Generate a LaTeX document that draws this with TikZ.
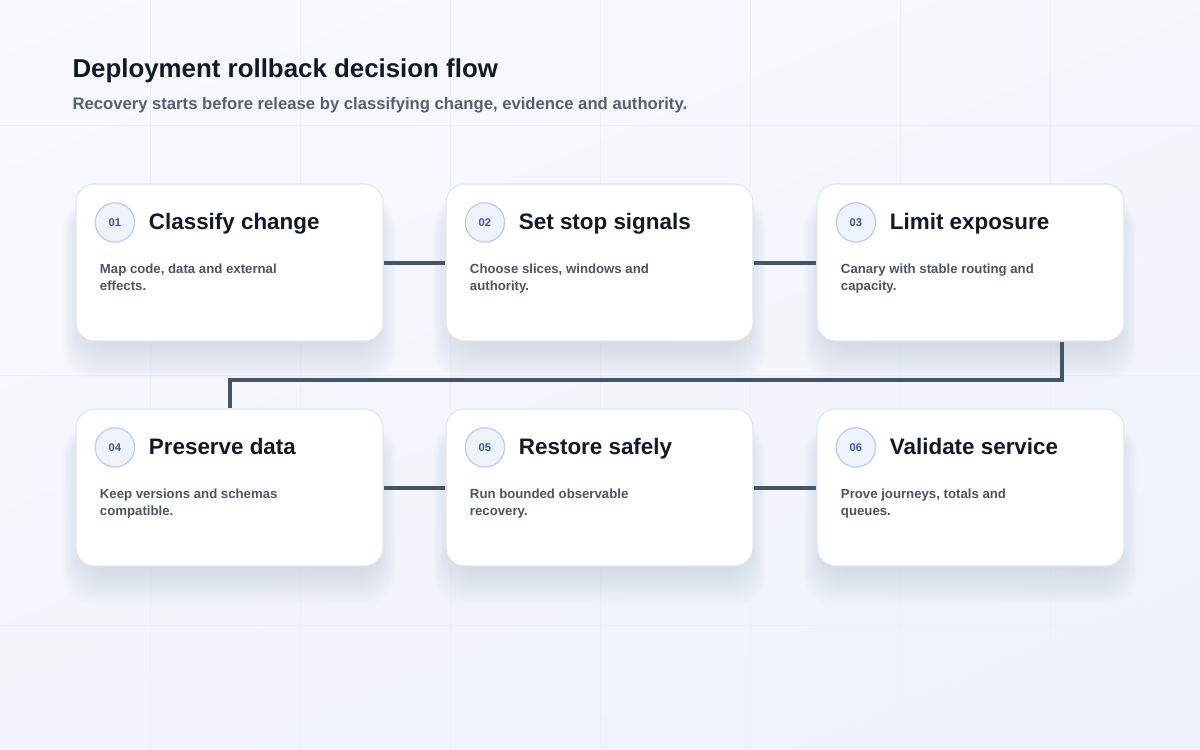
\documentclass[tikz,border=0pt]{standalone}
\usepackage{fontspec}
\setmainfont{Liberation Sans}
\usetikzlibrary{shadings}

\definecolor{inkdark}{HTML}{111827}
\definecolor{inkgray}{HTML}{4B5563}
\definecolor{subgray}{HTML}{556074}
\definecolor{wirecol}{HTML}{465468}
\definecolor{numblue}{HTML}{3457A6}
\definecolor{numfill}{HTML}{EEF3FD}
\definecolor{numline}{HTML}{BCCDEB}
\definecolor{cardline}{HTML}{E1E6EE}
\definecolor{bgtop}{HTML}{F8FAFC}
\definecolor{bgbot}{HTML}{EDF2FB}
\definecolor{gridcol}{HTML}{EDF1F7}
\definecolor{shadecol}{HTML}{7A88A8}

\tikzset{every picture/.style={line width=0.75pt}}
\tikzset{
  card/.style={draw=cardline, line width=0.8pt, fill=white, rounded corners=14pt,
    minimum width=230.25pt, minimum height=117.75pt, inner sep=0pt},
  cardshade/.style={fill=shadecol, fill opacity=0.02, rounded corners=22pt},
  numdot/.style={circle, draw=numline, fill=numfill, line width=0.9pt, minimum size=29.5pt, inner sep=0pt,
    text=numblue, font=\bfseries\fontsize{8.4}{9}\selectfont},
  cardtitle/.style={anchor=base west, inner sep=0pt, text=inkdark, font=\bfseries\fontsize{16.8}{19}\selectfont},
  carddesc/.style={anchor=north west, inner sep=0pt, text=inkgray, align=left,
    font=\bfseries\fontsize{9.9}{12.8}\selectfont},
  wire/.style={draw=wirecol, line width=3pt}
}

\begin{document}
\begin{tikzpicture}[x=0.75pt,y=0.75pt,yscale=-1,xscale=1]
    \useasboundingbox (0,0) rectangle (1200,750);
    \shade[upper left=bgtop, upper right=bgtop!60!bgbot, lower left=bgtop!40!bgbot, lower right=bgbot] (0,0) rectangle (1200,750);
    \foreach \gx in {150,300,...,1050} \draw[gridcol, line width=0.6pt] (\gx,0) -- (\gx,750);
    \foreach \gy in {125,375,625} \draw[gridcol, line width=0.6pt] (0,\gy) -- (1200,\gy);

    \node[anchor=base west, inner sep=0pt, text=inkdark, font=\bfseries\fontsize{19.4}{23}\selectfont] (title) at (72,77) {Deployment rollback decision flow};
    \node[anchor=base west, inner sep=0pt, text=subgray, font=\bfseries\fontsize{12.5}{14}\selectfont] (subtitle) at (72,109) {Recovery starts before release by classifying change, evidence and authority.};

    % soft shadows under the cards
    \foreach \cx/\cy in {229.5/262.5,599.5/262.5,970.5/262.5,229.5/487.5,599.5/487.5,970.5/487.5}
      \foreach \k in {1,...,12}
        \fill[cardshade] ({\cx-168+1.8*\k},{\cy-64+0.6*\k}) rectangle ({\cx+168-1.8*\k},{\cy+120-3.2*\k});

    % cards
    \foreach \id/\cx/\cy/\num/\head/\desc in {
        c1/229.5/262.5/01/Classify change/{Map code, data and external\\effects.},
        c2/599.5/262.5/02/Set stop signals/{Choose slices, windows and\\authority.},
        c3/970.5/262.5/03/Limit exposure/{Canary with stable routing and\\capacity.},
        c4/229.5/487.5/04/Preserve data/{Keep versions and schemas\\compatible.},
        c5/599.5/487.5/05/Restore safely/{Run bounded observable\\recovery.},
        c6/970.5/487.5/06/Validate service/{Prove journeys, totals and\\queues.}} {
      \node[card] (\id) at (\cx,\cy) {};
      \node[numdot] (\id n) at ([xshift=29.6pt,yshift=29.25pt]\id.north west) {\num};
      \node[cardtitle] (\id t) at ([xshift=54.75pt,yshift=34.5pt]\id.north west) {\head};
      \node[carddesc] (\id d) at ([xshift=18pt,yshift=59.6pt]\id.north west) {\desc};
    }

    % connectors
    \draw[wire] (c1.east) -- (c2.west);
    \draw[wire] (c2.east) -- (c3.west);
    \coordinate (drop) at (1062,0);
    \coordinate (bend) at (0,380);
    \draw[wire] (c3.south -| drop) |- (bend -| c4.north) -- (c4.north);
    \draw[wire] (c4.east) -- (c5.west);
    \draw[wire] (c5.east) -- (c6.west);
\end{tikzpicture}
\end{document}
